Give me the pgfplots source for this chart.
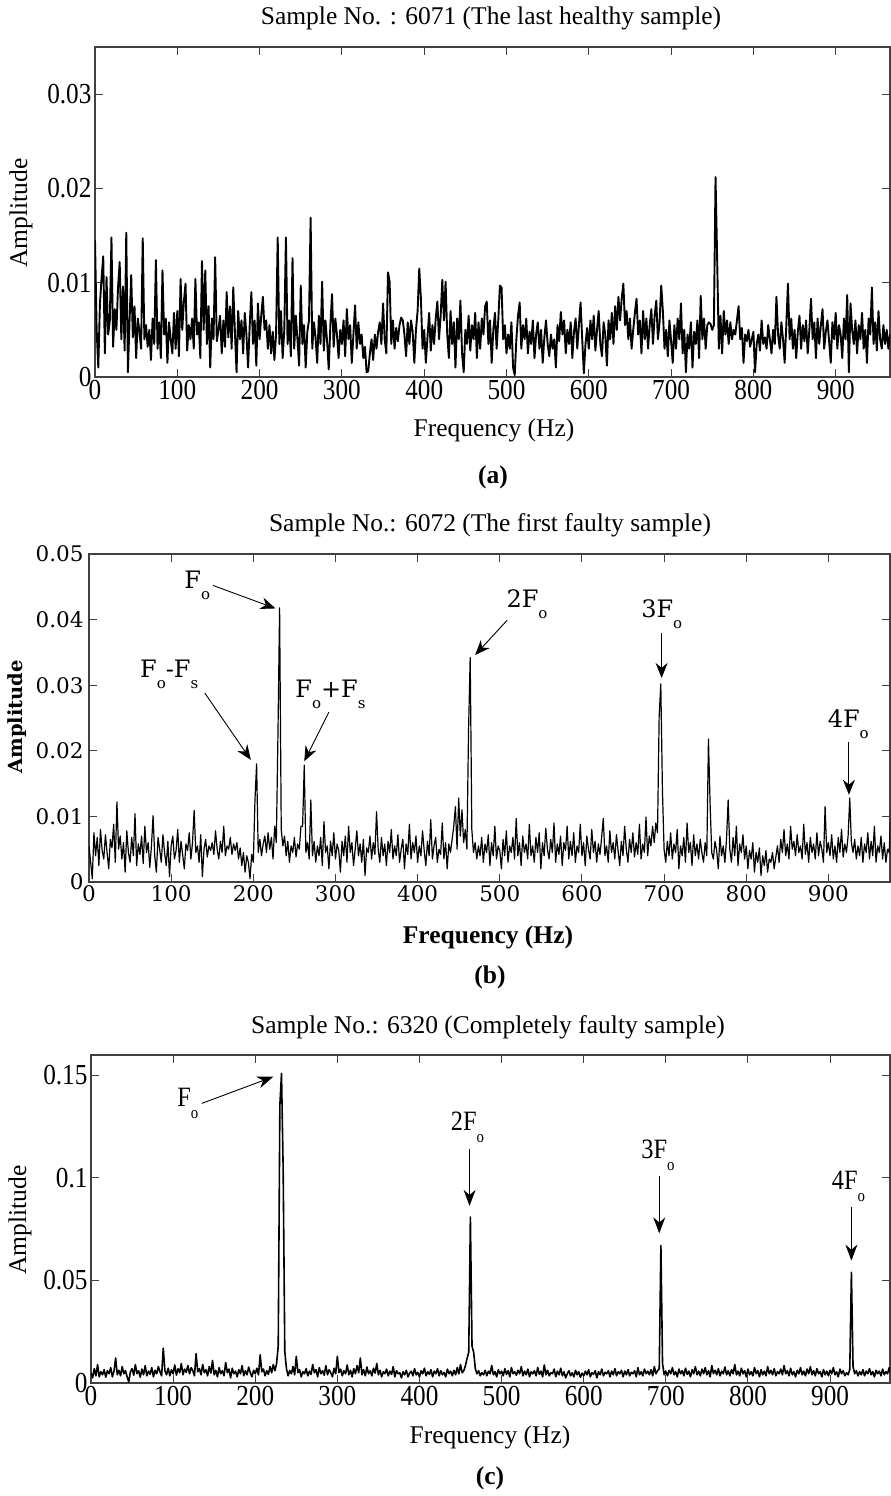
\documentclass[border=0pt]{standalone}
\usepackage{fontspec}
\setmainfont{Liberation Serif}
\newfontfamily\tickserif[FakeStretch=0.87]{Liberation Serif}
\newfontfamily\dvs{DejaVu Serif}
\usepackage{pgfplots}
\pgfplotsset{compat=1.18}
\usetikzlibrary{arrows.meta}
\newcommand\fTick{\tickserif\fontsize{29}{32}\selectfont}
\newcommand\fLab{\fontsize{25.5}{30}\selectfont}
\newcommand\fB{\dvs\fontsize{21.5}{25}\selectfont}
\newcommand\fBann{\dvs\fontsize{24}{28}\selectfont}
\newcommand\fCann{\tickserif\fontsize{28}{30}\selectfont}
\newcommand\subB[1]{\raisebox{-11pt}{\fontsize{15}{15}\selectfont #1}}
\newcommand\subC[1]{\raisebox{-12pt}{\fontsize{17}{17}\selectfont #1}}
\pgfplotsset{
  base/.style={scale only axis, anchor=south west, xmin=0, ymin=0,
    scaled y ticks=false, scaled x ticks=false,
    tick align=inside, major tick length=8pt,
    axis line style={line width=1.1pt, black!75},
    every tick/.style={line width=1pt, black!75},
    xtick={0,100,200,300,400,500,600,700,800,900},
    xticklabels={0,100,200,300,400,500,600,700,800,900}},
}
\begin{document}
\begin{tikzpicture}
\useasboundingbox (0pt,0pt) rectangle (891pt,1496pt);
% ---------------- panel (a)
\begin{axis}[base, at={(95pt,1119pt)}, width=795pt, height=330pt, xmax=966, ymax=0.035,
  ytick={0,0.01,0.02,0.03}, yticklabels={0,0.01,0.02,0.03},
  tick label style={font=\fTick}]
\addplot[black, line width=1.9pt, line join=round] table[row sep=\\, header=false, x expr=2*\coordindex, y index=0]{
0.0145\\0.0050\\0.0010\\0.0078\\0.0105\\0.0128\\0.0025\\0.0106\\0.0045\\0.0060\\
0.0148\\0.0032\\0.0072\\0.0050\\0.0095\\0.0122\\0.0040\\0.0096\\0.0028\\0.0153\\
0.0005\\0.0060\\0.0108\\0.0042\\0.0075\\0.0020\\0.0062\\0.0048\\0.0030\\0.0147\\
0.0040\\0.0055\\0.0032\\0.0050\\0.0018\\0.0062\\0.0035\\0.0124\\0.0030\\0.0058\\
0.0020\\0.0113\\0.0045\\0.0062\\0.0015\\0.0058\\0.0040\\0.0025\\0.0068\\0.0030\\
0.0070\\0.0022\\0.0104\\0.0050\\0.0080\\0.0099\\0.0028\\0.0055\\0.0040\\0.0062\\
0.0030\\0.0104\\0.0045\\0.0058\\0.0020\\0.0123\\0.0050\\0.0113\\0.0035\\0.0075\\
0.0010\\0.0062\\0.0040\\0.0127\\0.0038\\0.0050\\0.0065\\0.0025\\0.0060\\0.0032\\
0.0090\\0.0042\\0.0075\\0.0030\\0.0095\\0.0048\\0.0005\\0.0070\\0.0040\\0.0060\\
0.0025\\0.0068\\0.0045\\0.0010\\0.0055\\0.0090\\0.0035\\0.0060\\0.0012\\0.0078\\
0.0040\\0.0065\\0.0085\\0.0050\\0.0060\\0.0030\\0.0055\\0.0025\\0.0048\\0.0018\\
0.0045\\0.0148\\0.0035\\0.0070\\0.0020\\0.0050\\0.0148\\0.0035\\0.0060\\0.0022\\
0.0126\\0.0030\\0.0065\\0.0040\\0.0012\\0.0097\\0.0035\\0.0055\\0.0010\\0.0048\\
0.0060\\0.0169\\0.0030\\0.0058\\0.0042\\0.0015\\0.0065\\0.0035\\0.0101\\0.0028\\
0.0060\\0.0038\\0.0008\\0.0055\\0.0088\\0.0032\\0.0062\\0.0045\\0.0020\\0.0050\\
0.0035\\0.0060\\0.0022\\0.0072\\0.0040\\0.0055\\0.0015\\0.0045\\0.0076\\0.0030\\
0.0058\\0.0035\\0.0045\\0.0020\\0.0032\\0.0005\\0.0006\\0.0025\\0.0040\\0.0018\\
0.0045\\0.0030\\0.0048\\0.0058\\0.0035\\0.0078\\0.0040\\0.0025\\0.0111\\0.0101\\
0.0035\\0.0060\\0.0030\\0.0052\\0.0038\\0.0055\\0.0063\\0.0060\\0.0045\\0.0022\\
0.0058\\0.0035\\0.0060\\0.0048\\0.0015\\0.0050\\0.0070\\0.0115\\0.0083\\0.0030\\
0.0050\\0.0015\\0.0042\\0.0068\\0.0028\\0.0055\\0.0035\\0.0062\\0.0080\\0.0040\\
0.0065\\0.0103\\0.0060\\0.0101\\0.0045\\0.0020\\0.0070\\0.0035\\0.0058\\0.0010\\
0.0062\\0.0040\\0.0081\\0.0025\\0.0005\\0.0050\\0.0035\\0.0065\\0.0028\\0.0055\\
0.0040\\0.0068\\0.0020\\0.0058\\0.0030\\0.0062\\0.0045\\0.0075\\0.0080\\0.0035\\
0.0060\\0.0015\\0.0050\\0.0068\\0.0030\\0.0060\\0.0097\\0.0095\\0.0040\\0.0055\\
0.0025\\0.0045\\0.0030\\0.0058\\0.0010\\0.0002\\0.0040\\0.0065\\0.0079\\0.0030\\
0.0055\\0.0040\\0.0062\\0.0025\\0.0048\\0.0035\\0.0060\\0.0020\\0.0045\\0.0058\\
0.0030\\0.0050\\0.0015\\0.0042\\0.0060\\0.0035\\0.0022\\0.0045\\0.0030\\0.0040\\
0.0010\\0.0055\\0.0038\\0.0069\\0.0045\\0.0060\\0.0025\\0.0050\\0.0035\\0.0058\\
0.0020\\0.0048\\0.0062\\0.0030\\0.0055\\0.0079\\0.0040\\0.0004\\0.0035\\0.0052\\
0.0030\\0.0060\\0.0040\\0.0065\\0.0028\\0.0050\\0.0070\\0.0035\\0.0022\\0.0058\\
0.0045\\0.0012\\0.0060\\0.0040\\0.0068\\0.0035\\0.0075\\0.0050\\0.0085\\0.0060\\
0.0083\\0.0099\\0.0055\\0.0070\\0.0040\\0.0062\\0.0030\\0.0050\\0.0068\\0.0083\\
0.0045\\0.0060\\0.0025\\0.0070\\0.0040\\0.0062\\0.0030\\0.0055\\0.0072\\0.0035\\
0.0065\\0.0081\\0.0040\\0.0058\\0.0097\\0.0070\\0.0030\\0.0050\\0.0022\\0.0060\\
0.0038\\0.0015\\0.0055\\0.0030\\0.0062\\0.0040\\0.0078\\0.0025\\0.0050\\0.0005\\
0.0045\\0.0030\\0.0058\\0.0010\\0.0048\\0.0035\\0.0060\\0.0020\\0.0086\\0.0040\\
0.0062\\0.0030\\0.0055\\0.0058\\0.0056\\0.0050\\0.0055\\0.0212\\0.0124\\0.0030\\
0.0065\\0.0025\\0.0070\\0.0045\\0.0060\\0.0035\\0.0058\\0.0040\\0.0050\\0.0045\\
0.0060\\0.0075\\0.0040\\0.0052\\0.0015\\0.0045\\0.0038\\0.0050\\0.0032\\0.0040\\
0.0048\\0.0005\\0.0035\\0.0045\\0.0028\\0.0060\\0.0035\\0.0042\\0.0030\\0.0055\\
0.0040\\0.0025\\0.0050\\0.0035\\0.0085\\0.0045\\0.0030\\0.0058\\0.0040\\0.0015\\
0.0055\\0.0099\\0.0040\\0.0062\\0.0030\\0.0050\\0.0020\\0.0048\\0.0065\\0.0030\\
0.0055\\0.0038\\0.0060\\0.0025\\0.0050\\0.0083\\0.0040\\0.0058\\0.0020\\0.0062\\
0.0035\\0.0055\\0.0072\\0.0030\\0.0048\\0.0060\\0.0038\\0.0015\\0.0058\\0.0040\\
0.0068\\0.0030\\0.0055\\0.0045\\0.0020\\0.0062\\0.0040\\0.0087\\0.0005\\0.0078\\
0.0050\\0.0035\\0.0060\\0.0025\\0.0055\\0.0040\\0.0068\\0.0030\\0.0050\\0.0015\\
0.0062\\0.0045\\0.0095\\0.0035\\0.0058\\0.0028\\0.0070\\0.0040\\0.0030\\0.0055\\
0.0035\\0.0050\\0.0030\\0.0045\\0.0038\\
};
\end{axis}
\node[font=\fLab] at (491pt,1478pt) {Sample No. : 6071 (The last healthy sample)};
\node[font=\fLab] at (494pt,1066pt) {Frequency (Hz)};
\node[font=\fLab, rotate=90] at (21pt,1283pt) {Amplitude};
\node[font=\fLab\bfseries] at (493pt,1019pt) {(a)};
% ---------------- panel (b)
\begin{axis}[base, at={(89pt,614pt)}, width=801pt, height=328pt, xmax=975, ymax=0.05,
  ytick={0,0.01,0.02,0.03,0.04,0.05}, yticklabels={0,0.01,0.02,0.03,0.04,0.05},
  tick label style={font=\fB}, yticklabel style={xshift=-2pt}]
\addplot[black, line width=1.2pt, line join=round] table[row sep=\\, header=false, x expr=2*\coordindex, y index=0]{
0.0055\\0.0030\\0.0005\\0.0075\\0.0040\\0.0068\\0.0025\\0.0080\\0.0048\\0.0035\\
0.0072\\0.0045\\0.0020\\0.0065\\0.0052\\0.0088\\0.0030\\0.0122\\0.0050\\0.0070\\
0.0035\\0.0060\\0.0015\\0.0078\\0.0045\\0.0030\\0.0068\\0.0040\\0.0104\\0.0025\\
0.0058\\0.0042\\0.0070\\0.0028\\0.0085\\0.0045\\0.0060\\0.0022\\0.0055\\0.0101\\
0.0040\\0.0015\\0.0068\\0.0050\\0.0030\\0.0072\\0.0045\\0.0025\\0.0062\\0.0008\\
0.0055\\0.0070\\0.0035\\0.0048\\0.0080\\0.0030\\0.0062\\0.0042\\0.0020\\0.0058\\
0.0048\\0.0075\\0.0035\\0.0060\\0.0109\\0.0045\\0.0055\\0.0030\\0.0072\\0.0008\\
0.0050\\0.0065\\0.0038\\0.0055\\0.0048\\0.0060\\0.0042\\0.0078\\0.0050\\0.0035\\
0.0062\\0.0045\\0.0085\\0.0040\\0.0055\\0.0050\\0.0068\\0.0042\\0.0058\\0.0048\\
0.0060\\0.0035\\0.0052\\0.0025\\0.0045\\0.0015\\0.0040\\0.0030\\0.0005\\0.0042\\
0.0030\\0.0124\\0.0180\\0.0045\\0.0065\\0.0040\\0.0058\\0.0070\\0.0045\\0.0075\\
0.0050\\0.0068\\0.0035\\0.0085\\0.0060\\0.0225\\0.0418\\0.0080\\0.0055\\0.0070\\
0.0040\\0.0062\\0.0030\\0.0055\\0.0045\\0.0068\\0.0038\\0.0058\\0.0050\\0.0085\\
0.0085\\0.0178\\0.0045\\0.0060\\0.0035\\0.0125\\0.0040\\0.0062\\0.0030\\0.0055\\
0.0040\\0.0068\\0.0025\\0.0092\\0.0045\\0.0055\\0.0020\\0.0062\\0.0040\\0.0075\\
0.0035\\0.0058\\0.0048\\0.0015\\0.0062\\0.0040\\0.0070\\0.0030\\0.0085\\0.0045\\
0.0060\\0.0025\\0.0050\\0.0078\\0.0040\\0.0058\\0.0030\\0.0065\\0.0010\\0.0052\\
0.0045\\0.0070\\0.0035\\0.0060\\0.0042\\0.0107\\0.0050\\0.0030\\0.0068\\0.0040\\
0.0058\\0.0025\\0.0062\\0.0045\\0.0080\\0.0035\\0.0055\\0.0040\\0.0072\\0.0030\\
0.0050\\0.0065\\0.0020\\0.0058\\0.0042\\0.0088\\0.0035\\0.0060\\0.0045\\0.0070\\
0.0030\\0.0055\\0.0040\\0.0078\\0.0048\\0.0025\\0.0062\\0.0040\\0.0095\\0.0035\\
0.0055\\0.0068\\0.0030\\0.0050\\0.0042\\0.0090\\0.0035\\0.0060\\0.0020\\0.0058\\
0.0045\\0.0065\\0.0085\\0.0115\\0.0050\\0.0128\\0.0070\\0.0110\\0.0060\\0.0080\\
0.0050\\0.0232\\0.0342\\0.0080\\0.0045\\0.0060\\0.0035\\0.0055\\0.0040\\0.0068\\
0.0030\\0.0058\\0.0045\\0.0072\\0.0025\\0.0060\\0.0040\\0.0085\\0.0035\\0.0055\\
0.0048\\0.0020\\0.0065\\0.0040\\0.0078\\0.0030\\0.0055\\0.0045\\0.0068\\0.0035\\
0.0097\\0.0040\\0.0060\\0.0025\\0.0070\\0.0045\\0.0058\\0.0035\\0.0088\\0.0040\\
0.0055\\0.0030\\0.0068\\0.0045\\0.0075\\0.0020\\0.0060\\0.0040\\0.0082\\0.0050\\
0.0035\\0.0065\\0.0045\\0.0090\\0.0030\\0.0058\\0.0042\\0.0070\\0.0025\\0.0060\\
0.0048\\0.0085\\0.0035\\0.0062\\0.0040\\0.0075\\0.0030\\0.0055\\0.0045\\0.0088\\
0.0040\\0.0060\\0.0025\\0.0070\\0.0050\\0.0035\\0.0080\\0.0045\\0.0062\\0.0030\\
0.0058\\0.0042\\0.0068\\0.0097\\0.0040\\0.0055\\0.0030\\0.0078\\0.0045\\0.0060\\
0.0035\\0.0072\\0.0048\\0.0025\\0.0062\\0.0040\\0.0085\\0.0050\\0.0030\\0.0065\\
0.0045\\0.0075\\0.0038\\0.0060\\0.0042\\0.0088\\0.0035\\0.0058\\0.0045\\0.0099\\
0.0040\\0.0070\\0.0055\\0.0085\\0.0060\\0.0090\\0.0075\\0.0252\\0.0302\\0.0140\\
0.0050\\0.0030\\0.0062\\0.0040\\0.0075\\0.0035\\0.0058\\0.0045\\0.0080\\0.0020\\
0.0055\\0.0040\\0.0068\\0.0030\\0.0090\\0.0045\\0.0060\\0.0025\\0.0072\\0.0040\\
0.0058\\0.0035\\0.0065\\0.0045\\0.0030\\0.0060\\0.0040\\0.0218\\0.0120\\0.0045\\
0.0035\\0.0062\\0.0048\\0.0020\\0.0070\\0.0040\\0.0055\\0.0030\\0.0065\\0.0125\\
0.0050\\0.0030\\0.0068\\0.0040\\0.0085\\0.0025\\0.0058\\0.0045\\0.0072\\0.0035\\
0.0055\\0.0020\\0.0048\\0.0035\\0.0060\\0.0015\\0.0045\\0.0030\\0.0052\\0.0010\\
0.0040\\0.0025\\0.0048\\0.0015\\0.0035\\0.0030\\0.0045\\0.0020\\0.0038\\0.0055\\
0.0030\\0.0065\\0.0045\\0.0080\\0.0040\\0.0058\\0.0035\\0.0085\\0.0050\\0.0062\\
0.0040\\0.0072\\0.0045\\0.0055\\0.0035\\0.0088\\0.0042\\0.0060\\0.0030\\0.0068\\
0.0045\\0.0058\\0.0035\\0.0075\\0.0040\\0.0062\\0.0050\\0.0030\\0.0115\\0.0045\\
0.0060\\0.0040\\0.0072\\0.0035\\0.0055\\0.0030\\0.0068\\0.0045\\0.0080\\0.0038\\
0.0058\\0.0045\\0.0070\\0.0128\\0.0060\\0.0045\\0.0065\\0.0035\\0.0055\\0.0040\\
0.0068\\0.0030\\0.0058\\0.0045\\0.0075\\0.0035\\0.0062\\0.0040\\0.0085\\0.0030\\
0.0055\\0.0045\\0.0070\\0.0035\\0.0060\\0.0030\\0.0050\\0.0045\\0.0110\\
};
\node[anchor=base west, inner sep=0pt, font=\fBann] at (axis cs:116,0.0448) {F\subB{o}};
\draw[line width=0.9pt, -{Stealth[length=15pt,width=12pt]}] (axis cs:151,0.0452) -- (axis cs:227,0.0417);
\node[anchor=base west, inner sep=0pt, font=\fBann] at (axis cs:62,0.0311) {F\subB{o}-F\subB{s}};
\draw[line width=0.9pt, -{Stealth[length=15pt,width=12pt]}] (axis cs:141,0.0288) -- (axis cs:197,0.0186);
\node[anchor=base west, inner sep=0pt, font=\fBann] at (axis cs:251,0.0281) {F\subB{o}+F\subB{s}};
\draw[line width=0.9pt, -{Stealth[length=15pt,width=12pt]}] (axis cs:292,0.0259) -- (axis cs:262,0.0184);
\node[anchor=base west, inner sep=0pt, font=\fBann] at (axis cs:508,0.0418) {2F\subB{o}};
\draw[line width=0.9pt, -{Stealth[length=15pt,width=12pt]}] (axis cs:509,0.0399) -- (axis cs:470,0.0346);
\node[anchor=base west, inner sep=0pt, font=\fBann] at (axis cs:672,0.0403) {3F\subB{o}};
\draw[line width=0.9pt, -{Stealth[length=15pt,width=12pt]}] (axis cs:697,0.0379) -- (axis cs:697,0.0311);
\node[anchor=base west, inner sep=0pt, font=\fBann] at (axis cs:899,0.0235) {4F\subB{o}};
\draw[line width=0.9pt, -{Stealth[length=15pt,width=12pt]}] (axis cs:925,0.0214) -- (axis cs:925,0.0133);
\end{axis}
\node[font=\fLab] at (490pt,971pt) {Sample No.: 6072 (The first faulty sample)};
\node[font=\fLab\bfseries] at (488pt,559pt) {Frequency (Hz)};
\node[font=\dvs\bfseries\fontsize{19.5}{22}\selectfont, rotate=90] at (17pt,779pt) {Amplitude};
\node[font=\fLab\bfseries] at (490pt,519pt) {(b)};
% ---------------- panel (c)
\begin{axis}[base, at={(91pt,113pt)}, width=799pt, height=328pt, xmax=973, ymax=0.16,
  ytick={0,0.05,0.1,0.15}, yticklabels={0,0.05,0.1,0.15},
  tick label style={font=\fTick}]
\addplot[black, line width=1.6pt, line join=round] table[row sep=\\, header=false, x expr=2*\coordindex, y index=0]{
0.0050\\0.0025\\0.0070\\0.0035\\0.0090\\0.0030\\0.0055\\0.0040\\0.0065\\0.0028\\
0.0060\\0.0045\\0.0075\\0.0030\\0.0058\\0.0122\\0.0040\\0.0062\\0.0035\\0.0080\\
0.0045\\0.0060\\0.0030\\0.0005\\0.0055\\0.0070\\0.0038\\0.0090\\0.0045\\0.0060\\
0.0028\\0.0068\\0.0040\\0.0085\\0.0035\\0.0058\\0.0042\\0.0075\\0.0030\\0.0062\\
0.0045\\0.0080\\0.0055\\0.0035\\0.0170\\0.0060\\0.0040\\0.0072\\0.0035\\0.0065\\
0.0045\\0.0088\\0.0038\\0.0070\\0.0050\\0.0095\\0.0040\\0.0068\\0.0052\\0.0085\\
0.0045\\0.0075\\0.0060\\0.0035\\0.0143\\0.0055\\0.0070\\0.0040\\0.0090\\0.0050\\
0.0065\\0.0035\\0.0080\\0.0048\\0.0110\\0.0040\\0.0062\\0.0030\\0.0075\\0.0045\\
0.0060\\0.0035\\0.0100\\0.0050\\0.0068\\0.0025\\0.0072\\0.0045\\0.0058\\0.0030\\
0.0065\\0.0045\\0.0085\\0.0035\\0.0060\\0.0040\\0.0078\\0.0050\\0.0030\\0.0062\\
0.0045\\0.0072\\0.0040\\0.0138\\0.0055\\0.0068\\0.0035\\0.0060\\0.0042\\0.0080\\
0.0050\\0.0090\\0.0060\\0.0095\\0.0180\\0.1356\\0.1510\\0.1047\\0.0154\\0.0070\\
0.0035\\0.0060\\0.0045\\0.0080\\0.0040\\0.0130\\0.0050\\0.0065\\0.0030\\0.0055\\
0.0045\\0.0070\\0.0035\\0.0058\\0.0042\\0.0090\\0.0050\\0.0065\\0.0030\\0.0075\\
0.0045\\0.0060\\0.0038\\0.0085\\0.0040\\0.0065\\0.0050\\0.0030\\0.0072\\0.0045\\
0.0130\\0.0050\\0.0068\\0.0035\\0.0060\\0.0045\\0.0088\\0.0040\\0.0062\\0.0030\\
0.0070\\0.0045\\0.0085\\0.0050\\0.0122\\0.0040\\0.0065\\0.0035\\0.0078\\0.0045\\
0.0060\\0.0035\\0.0072\\0.0048\\0.0095\\0.0040\\0.0062\\0.0030\\0.0055\\0.0045\\
0.0068\\0.0035\\0.0058\\0.0042\\0.0080\\0.0030\\0.0060\\0.0045\\0.0050\\0.0025\\
0.0055\\0.0040\\0.0062\\0.0030\\0.0048\\0.0058\\0.0035\\0.0070\\0.0040\\0.0052\\
0.0030\\0.0060\\0.0045\\0.0072\\0.0035\\0.0055\\0.0042\\0.0065\\0.0030\\0.0058\\
0.0045\\0.0070\\0.0035\\0.0060\\0.0040\\0.0052\\0.0030\\0.0068\\0.0045\\0.0058\\
0.0035\\0.0062\\0.0040\\0.0075\\0.0045\\0.0090\\0.0050\\0.0060\\0.0085\\0.0120\\
0.0150\\0.0810\\0.0180\\0.0150\\0.0070\\0.0045\\0.0060\\0.0035\\0.0050\\0.0040\\
0.0062\\0.0035\\0.0058\\0.0045\\0.0085\\0.0040\\0.0055\\0.0030\\0.0065\\0.0045\\
0.0058\\0.0035\\0.0070\\0.0042\\0.0060\\0.0030\\0.0075\\0.0045\\0.0055\\0.0038\\
0.0062\\0.0045\\0.0080\\0.0035\\0.0058\\0.0040\\0.0068\\0.0030\\0.0055\\0.0045\\
0.0060\\0.0035\\0.0075\\0.0042\\0.0058\\0.0030\\0.0088\\0.0040\\0.0062\\0.0035\\
0.0050\\0.0045\\0.0068\\0.0030\\0.0058\\0.0040\\0.0072\\0.0035\\0.0055\\0.0025\\
0.0045\\0.0060\\0.0035\\0.0050\\0.0030\\0.0062\\0.0040\\0.0055\\0.0028\\0.0048\\
0.0035\\0.0058\\0.0040\\0.0065\\0.0030\\0.0050\\0.0042\\0.0060\\0.0025\\0.0055\\
0.0040\\0.0068\\0.0035\\0.0052\\0.0045\\0.0060\\0.0030\\0.0058\\0.0040\\0.0070\\
0.0035\\0.0055\\0.0045\\0.0062\\0.0030\\0.0058\\0.0040\\0.0065\\0.0035\\0.0052\\
0.0045\\0.0060\\0.0030\\0.0075\\0.0040\\0.0055\\0.0035\\0.0068\\0.0045\\0.0058\\
0.0040\\0.0065\\0.0035\\0.0080\\0.0045\\0.0060\\0.0070\\0.0670\\0.0095\\0.0040\\
0.0058\\0.0035\\0.0062\\0.0045\\0.0075\\0.0040\\0.0055\\0.0030\\0.0068\\0.0045\\
0.0060\\0.0035\\0.0072\\0.0042\\0.0058\\0.0030\\0.0065\\0.0045\\0.0080\\0.0040\\
0.0058\\0.0035\\0.0068\\0.0045\\0.0075\\0.0040\\0.0060\\0.0030\\0.0085\\0.0045\\
0.0062\\0.0040\\0.0070\\0.0035\\0.0058\\0.0045\\0.0078\\0.0040\\0.0060\\0.0035\\
0.0065\\0.0045\\0.0090\\0.0040\\0.0058\\0.0035\\0.0072\\0.0045\\0.0060\\0.0030\\
0.0068\\0.0040\\0.0055\\0.0035\\0.0075\\0.0045\\0.0060\\0.0030\\0.0065\\0.0040\\
0.0058\\0.0035\\0.0080\\0.0045\\0.0062\\0.0040\\0.0070\\0.0035\\0.0055\\0.0045\\
0.0068\\0.0040\\0.0085\\0.0045\\0.0060\\0.0035\\0.0072\\0.0040\\0.0055\\0.0030\\
0.0062\\0.0045\\0.0075\\0.0040\\0.0058\\0.0035\\0.0068\\0.0045\\0.0080\\0.0040\\
0.0060\\0.0035\\0.0070\\0.0045\\0.0055\\0.0030\\0.0065\\0.0040\\0.0058\\0.0035\\
0.0062\\0.0045\\0.0075\\0.0040\\0.0055\\0.0030\\0.0068\\0.0045\\0.0060\\0.0035\\
0.0050\\0.0040\\0.0065\\0.0540\\0.0080\\0.0045\\0.0060\\0.0035\\0.0055\\0.0040\\
0.0065\\0.0035\\0.0058\\0.0045\\0.0070\\0.0040\\0.0055\\0.0030\\0.0062\\0.0045\\
0.0058\\0.0035\\0.0068\\0.0040\\0.0055\\0.0045\\0.0075\\0.0050\\
};
\node[anchor=base west, inner sep=0pt, font=\fCann] at (axis cs:105,0.1347) {F\subC{o}};
\draw[line width=0.9pt, -{Stealth[length=16pt,width=12pt]}] (axis cs:135,0.1364) -- (axis cs:222,0.1494);
\node[anchor=base west, inner sep=0pt, font=\fCann] at (axis cs:438,0.1234) {2F\subC{o}};
\draw[line width=0.9pt, -{Stealth[length=16pt,width=12pt]}] (axis cs:461,0.114) -- (axis cs:461,0.0864);
\node[anchor=base west, inner sep=0pt, font=\fCann] at (axis cs:670,0.1096) {3F\subC{o}};
\draw[line width=0.9pt, -{Stealth[length=16pt,width=12pt]}] (axis cs:692,0.101) -- (axis cs:692,0.073);
\node[anchor=base west, inner sep=0pt, font=\fCann] at (axis cs:902,0.0942) {4F\subC{o}};
\draw[line width=0.9pt, -{Stealth[length=16pt,width=12pt]}] (axis cs:926,0.086) -- (axis cs:926,0.0597);
\end{axis}
\node[font=\fLab] at (488pt,469pt) {Sample No.: 6320 (Completely faulty sample)};
\node[font=\fLab] at (490pt,59pt) {Frequency (Hz)};
\node[font=\fLab, rotate=90] at (20pt,276pt) {Amplitude};
\node[font=\fLab\bfseries] at (490pt,18pt) {(c)};
\end{tikzpicture}
\end{document}
